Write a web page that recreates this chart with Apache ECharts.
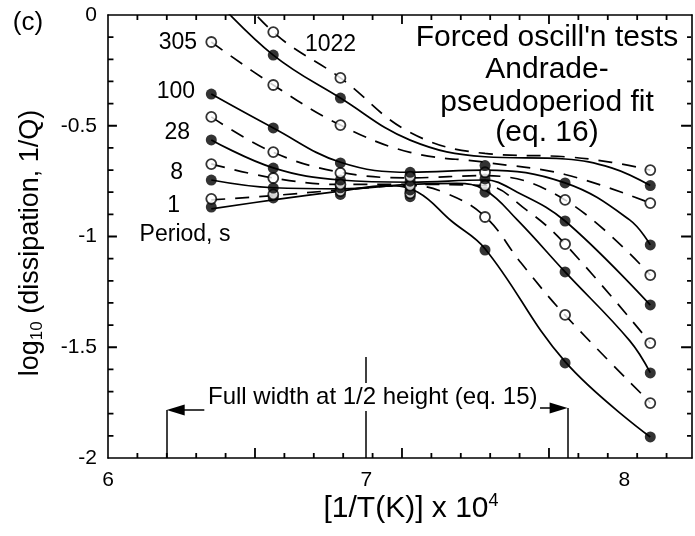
<!DOCTYPE html>
<html>
<head>
<meta charset="utf-8">
<script src="https://cdn.jsdelivr.net/npm/echarts@6/dist/echarts.min.js"></script>
<style>
  html, body { margin: 0; padding: 0; background: #fff; }
  #chart { width: 695px; height: 536px; }
</style>
</head>
<body>
<div id="chart"></div>
<script>
// Temperature columns, [1/T(K)] x 10^4
const colX = [6.40, 6.64, 6.90, 7.17, 7.46, 7.77, 8.10];

// Measured log10(1/Q) per period, one value per column (null = not measured).
// Odd-numbered sets are drawn filled, even-numbered open.
const obs1  = [-0.867, -0.826, -0.810, -0.820, -1.061, -1.571, -1.905];
const obs2  = [-0.830, -0.810, -0.795, -0.805, -0.912, -1.354, -1.752];
const obs3  = [-0.745, -0.781, -0.780, -0.790, -0.800, -1.160, -1.616];
const obs4  = [-0.673, -0.736, -0.765, -0.770, -0.770, -1.034, -1.481];
const obs5  = [-0.564, -0.691, -0.745, -0.750, -0.740, -0.930, -1.309];
const obs6  = [-0.460, -0.619, -0.713, -0.730, -0.710, -0.835, -1.174];
const obs7  = [-0.357, -0.510, -0.668, -0.710, -0.680, -0.758, -1.038];
const obs8  = [-0.122, -0.316, -0.497, null, null, null, -0.849];
const obs9  = [null, -0.181, -0.375, null, null, null, -0.770];
const obs10 = [null, -0.077, -0.284, null, null, null, -0.700];

// Andrade-pseudoperiod fit curves, [x, log10(1/Q)]
const fit1  = [[6.40,-0.875],[6.64,-0.835],[6.90,-0.795],[7.08,-0.770],[7.20,-0.800],[7.33,-0.930],[7.46,-1.055],[7.77,-1.565],[8.10,-1.905]];
const fit2  = [[6.40,-0.835],[6.64,-0.815],[6.90,-0.790],[7.17,-0.770],[7.30,-0.800],[7.46,-0.910],[7.60,-1.120],[7.77,-1.355],[8.10,-1.750]];
const fit3  = [[6.40,-0.745],[6.64,-0.780],[6.90,-0.785],[7.17,-0.765],[7.35,-0.760],[7.46,-0.790],[7.585,-0.925],[7.77,-1.160],[8.02,-1.470],[8.10,-1.615]];
const fit4  = [[6.40,-0.672],[6.64,-0.736],[6.90,-0.765],[7.17,-0.765],[7.46,-0.770],[7.62,-0.880],[7.77,-1.034],[8.10,-1.480]];
const fit5  = [[6.40,-0.564],[6.64,-0.690],[6.90,-0.745],[7.17,-0.755],[7.46,-0.745],[7.585,-0.800],[7.77,-0.930],[8.10,-1.310]];
const fit6  = [[6.40,-0.460],[6.64,-0.620],[6.90,-0.710],[7.17,-0.735],[7.46,-0.725],[7.77,-0.835],[8.10,-1.174]];
const fit7  = [[6.40,-0.357],[6.64,-0.510],[6.90,-0.665],[7.17,-0.710],[7.46,-0.700],[7.77,-0.758],[8.02,-0.925],[8.10,-1.038]];
const fit8  = [[6.40,-0.122],[6.64,-0.316],[6.90,-0.497],[7.17,-0.620],[7.46,-0.665],[7.77,-0.720],[8.10,-0.849]];
const fit9  = [[6.40,0.090],[6.64,-0.181],[6.90,-0.375],[7.17,-0.565],[7.46,-0.640],[7.77,-0.650],[7.95,-0.690],[8.10,-0.770]];
const fit10 = [[6.40,0.240],[6.64,-0.077],[6.90,-0.284],[7.17,-0.530],[7.46,-0.625],[7.77,-0.640],[7.95,-0.665],[8.10,-0.700]];

// Period labels written beside the curves
const periodLabels = ['305', '100', '28', '8', '1'];

// Frame ticks: positions along the top/bottom frame (in tick steps) and along the sides
const frameTickSteps = [1, 2, 3, 4, 5, 6, 7, 8, 9, 10, 11, 12, 13, 14, 15, 16, 17, 18, 19];
const sideTickValues = [-1.9, -1.8, -1.7, -1.6, -1.5, -1.4, -1.3, -1.2, -1.1, -1.0,
                        -0.9, -0.8, -0.7, -0.6, -0.5, -0.4, -0.3, -0.2, -0.1];

const observations = [obs1, obs2, obs3, obs4, obs5, obs6, obs7, obs8, obs9, obs10];
const fits = [fit1, fit2, fit3, fit4, fit5, fit6, fit7, fit8, fit9, fit10];

const FONT = '"Liberation Sans", Arial, Helvetica, sans-serif';
const INK = '#000';

const chart = echarts.init(document.getElementById('chart'), null, { renderer: 'canvas' });

const gridLeft = 108, gridTop = 15, gridRight = -1, gridBottom = 78;
const pxPerUnitX = 260;
const plotWidth = 695 - gridLeft - gridRight;
const plotHeight = 536 - gridTop - gridBottom;
const xMax = 6 + plotWidth / pxPerUnitX;
const tickStepX = 29.6 / pxPerUnitX;
// Pixel lengths expressed in axis units
const ux = px => px / pxPerUnitX;
const uy = px => px * 2 / plotHeight;

const series = [];

fits.forEach((fit, i) => {
  const dashed = i % 2 === 1;
  series.push({
    type: 'line',
    data: fit,
    smooth: 0.4,
    symbol: 'none',
    silent: true,
    clip: true,
    z: 2,
    lineStyle: { color: INK, width: 1.7, type: dashed ? [14, 10] : 'solid' }
  });
});

observations.forEach((vals, i) => {
  const filled = i % 2 === 0;
  const pts = [];
  vals.forEach((v, k) => { if (v !== null) pts.push([colX[k], v]); });
  series.push({
    type: 'scatter',
    data: pts,
    symbol: 'circle',
    symbolSize: filled ? 11 : 10,
    silent: true,
    z: 3,
    itemStyle: filled
      ? { color: INK }
      : { color: '#fff', borderColor: INK, borderWidth: 1.8 }
  });
});

// Half-height width markers along the bottom
series[0].markLine = {
  silent: true,
  animation: false,
  symbol: ['none', 'none'],
  label: { show: false },
  lineStyle: { color: INK, width: 1.5, type: 'solid' },
  data: [
    [{ coord: [6.227, -1.783] }, { coord: [6.227, -2] }],
    [{ coord: [7.0, -1.544] }, { coord: [7.0, -2] }],
    [{ coord: [7.781, -1.774] }, { coord: [7.781, -2] }],
    [{ coord: [6.373, -1.783], symbol: 'none' }, { coord: [6.262, -1.783], symbol: 'triangle', symbolSize: [11, 18] }],
    [{ coord: [7.673, -1.774], symbol: 'none' }, { coord: [7.745, -1.774], symbol: 'triangle', symbolSize: [11, 18] }]
  ]
};

// Inward ticks on all four sides of the frame, as short broken line segments
const tickSegments = [];
function seg(a, b) { tickSegments.push(a, b, null); }
frameTickSteps.forEach(k => {
  const major = k % 5 === 0;
  const xv = 6 + k * tickStepX;
  seg([xv, -2], [xv, -2 + uy(major ? 10 : 5)]);
  seg([xv, 0], [xv, -uy(major ? 9 : 5)]);
});
sideTickValues.forEach(v => {
  const major = Math.abs(v * 2 - Math.round(v * 2)) < 1e-6;
  seg([6, v], [6 + ux(major ? 9 : 5.5), v]);
  seg([xMax - ux(1), v], [xMax - ux(major ? 11 : 5), v]);
});
series.push({
  type: 'line',
  data: tickSegments,
  connectNulls: false,
  symbol: 'none',
  silent: true,
  clip: false,
  z: 6,
  lineStyle: { color: INK, width: 1.8, type: 'solid' }
});

function txt(text, x, y, size, align, extra) {
  return Object.assign({
    type: 'text', x, y, z: 50, silent: true,
    style: {
      text, fill: INK, fontSize: size, fontFamily: FONT,
      textAlign: align, align: align,
      textVerticalAlign: 'middle', verticalAlign: 'middle'
    }
  }, extra || {});
}

const labelY = [43, 92, 133, 173, 206];
const labelRight = [197, 195, 190, 183, 180];

const graphic = [
  txt('(c)', 28, 23, 26, 'center'),
  txt('Forced oscill\'n tests', 547, 38, 30, 'center'),
  txt('Andrade-', 547, 70, 30, 'center'),
  txt('pseudoperiod fit', 547, 103, 30, 'center'),
  txt('(eq. 16)', 547, 133, 30, 'center'),
  txt('1022', 305, 45, 23, 'left'),
  txt('Period, s', 185, 235, 23, 'center'),
  {
    type: 'text', x: 207, y: 397, z: 60, silent: true,
    style: {
      text: 'Full width at 1/2 height (eq. 15)', fill: INK, fontSize: 24, fontFamily: FONT,
      textAlign: 'left', align: 'left', textVerticalAlign: 'middle', verticalAlign: 'middle',
      backgroundColor: '#fff', padding: [2, 1, 2, 1]
    }
  },
  {
    type: 'text', x: 411, y: 509, z: 50, silent: true,
    style: {
      text: '[1/T(K)] x 10{sup|4}', fill: INK, fontSize: 30, fontFamily: FONT,
      textAlign: 'center', align: 'center', textVerticalAlign: 'middle', verticalAlign: 'middle',
      rich: { sup: { fontSize: 18, fontFamily: FONT, fill: INK, verticalAlign: 'top', lineHeight: 34 } }
    }
  },
  {
    type: 'text', x: 31, y: 243, z: 50, silent: true, rotation: Math.PI / 2,
    style: {
      text: 'log{sub|10} (dissipation, 1/Q)', fill: INK, fontSize: 27, fontFamily: FONT,
      textAlign: 'center', align: 'center', textVerticalAlign: 'middle', verticalAlign: 'middle',
      rich: { sub: { fontSize: 17, fontFamily: FONT, fill: INK, verticalAlign: 'bottom', lineHeight: 30 } }
    }
  }
];

periodLabels.forEach((t, i) => graphic.push(txt(t, labelRight[i], labelY[i], 23, 'right')));

chart.setOption({
  animation: false,
  backgroundColor: '#fff',
  grid: { left: gridLeft, top: gridTop, right: gridRight, bottom: gridBottom, containLabel: false },
  xAxis: [
    {
      type: 'value', position: 'bottom', min: 6, max: xMax, interval: 1,
      axisLine: { show: true, onZero: false, lineStyle: { color: INK, width: 1.6 } },
      axisTick: { show: false },
      splitLine: { show: false },
      axisLabel: {
        margin: 12, fontSize: 21, color: INK, fontFamily: FONT,
        formatter: v => (Math.abs(v - Math.round(v)) < 1e-9 ? String(Math.round(v)) : '')
      }
    },
    {
      type: 'value', position: 'top', min: 6, max: xMax,
      axisLine: { show: true, onZero: false, lineStyle: { color: INK, width: 1.6 } },
      axisTick: { show: false }, axisLabel: { show: false }, splitLine: { show: false }
    }
  ],
  yAxis: [
    {
      type: 'value', position: 'left', min: -2, max: 0, interval: 0.5,
      axisLine: { show: true, onZero: false, lineStyle: { color: INK, width: 1.6 } },
      axisTick: { show: false },
      axisLabel: { margin: 11, fontSize: 21, color: INK, fontFamily: FONT },
      splitLine: { show: false }
    },
    {
      type: 'value', position: 'right', min: -2, max: 0,
      axisLine: { show: true, onZero: false, lineStyle: { color: INK, width: 1.6 } },
      axisTick: { show: false }, axisLabel: { show: false }, splitLine: { show: false }
    }
  ],
  series,
  graphic
});
</script>
</body>
</html>
